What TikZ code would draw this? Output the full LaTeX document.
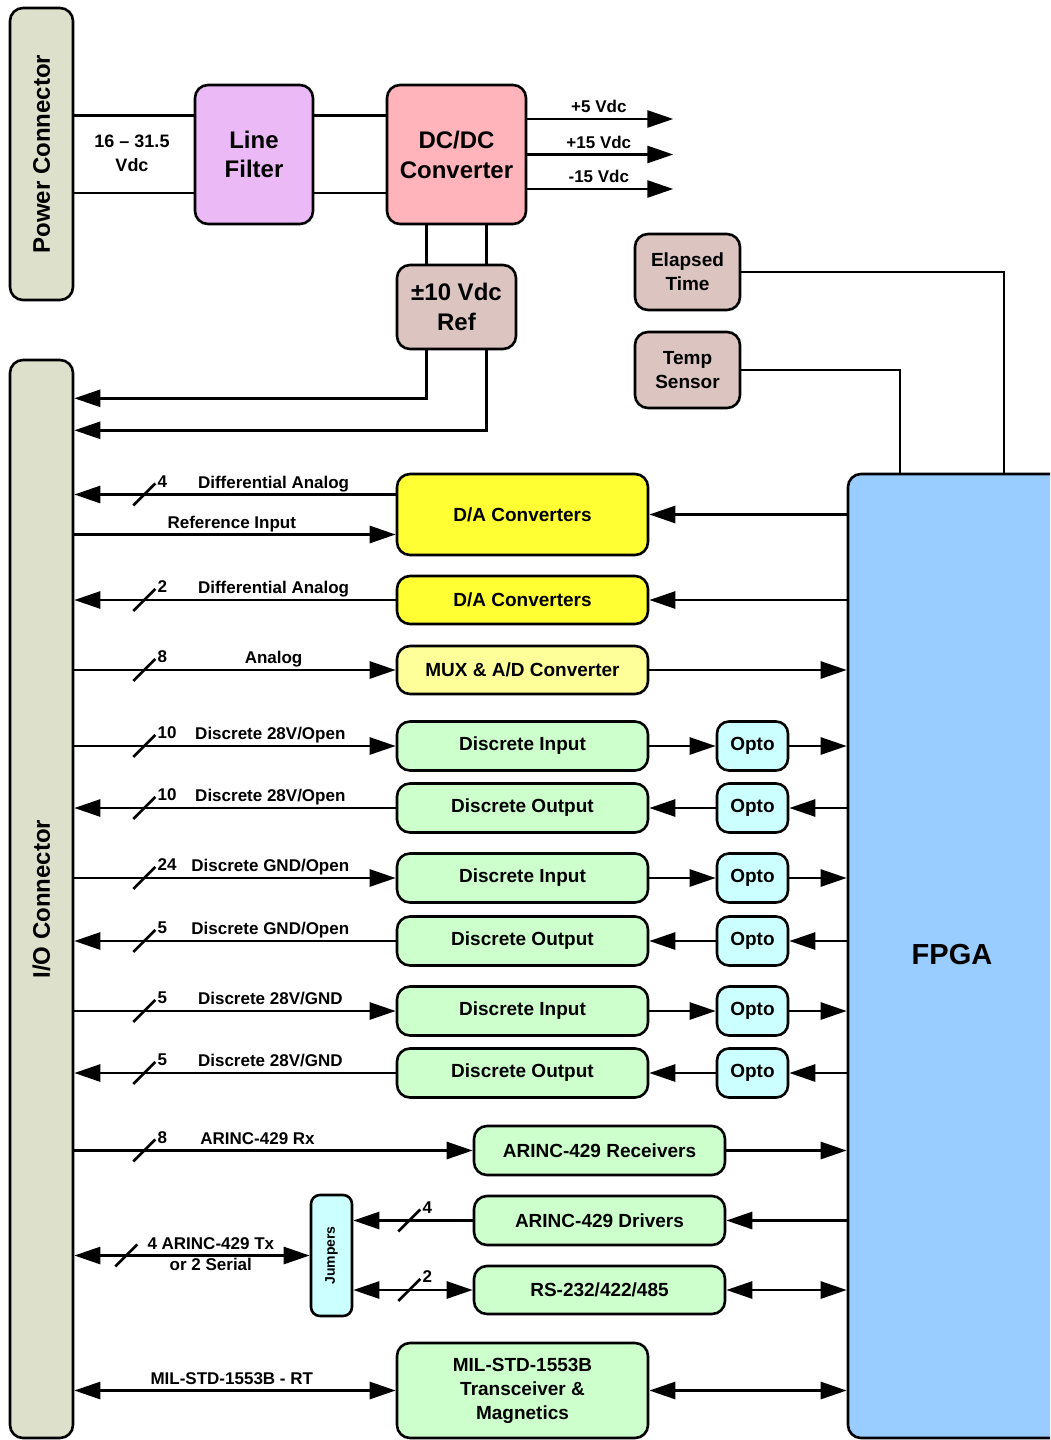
\documentclass[tikz,border=0pt]{standalone}
\usepackage{fontspec}
\setmainfont{Liberation Sans}
\usetikzlibrary{calc,arrows.meta,positioning}

\definecolor{conngray}{HTML}{DDE0CA}
\definecolor{filtpink}{HTML}{EAB9F6}
\definecolor{dcred}{HTML}{FFB3BA}
\definecolor{refbrown}{HTML}{DCC5C1}
\definecolor{fpgablue}{HTML}{99CCFF}
\definecolor{dayellow}{HTML}{FFFF33}
\definecolor{muxyellow}{HTML}{FFFF99}
\definecolor{iogreen}{HTML}{CCFFCC}
\definecolor{optocyan}{HTML}{CCFFFF}

\newcommand{\fs}[2]{\fontsize{#1}{#2}\selectfont\bfseries}
% slash mark with bus count
\newcommand{\busmark}[2]{%
  \path #1 coordinate (bm);
  \draw[sig] ($(bm)+(-11,11)$) -- ($(bm)+(11,-11)$) node[cnt] {#2};}

\begin{document}
\begin{tikzpicture}[x=1pt, y=-1pt,
  blk/.style={draw, line width=2.6pt, rounded corners=13pt, align=center, inner sep=0pt, font=\fs{19}{24}},
  sig/.style={line width=2.7pt},
  arr/.style={sig, -{Triangle[length=26pt,width=17pt]}},
  arrl/.style={sig, {Triangle[length=26pt,width=17pt]}-},
  dbl/.style={sig, {Triangle[length=26pt,width=17pt]}-{Triangle[length=26pt,width=17pt]}},
  lbl/.style={font=\fs{17}{19}, above, inner sep=1.5pt, text height=12pt, text depth=3.5pt},
  cnt/.style={font=\fs{17}{19}, anchor=west, inner sep=1pt, yshift=2pt}]
  \useasboundingbox (0,0) rectangle (1050,1440);
  \clip (0,0) rectangle (1050,1440);

  % connectors and power
  \node[blk, fill=conngray, minimum width=63, minimum height=292, font=\fs{24}{28}] (pwr) at (41.5,154) {\rotatebox{90}{Power Connector}};
  \node[blk, fill=conngray, minimum width=63, minimum height=1078, font=\fs{24}{28}] (io) at (41.5,899) {\rotatebox{90}{I/O Connector}};
  \node[blk, fill=filtpink, minimum width=118, minimum height=139, font=\fs{24}{29}] (filt) at (254,154.5) {Line\\Filter};
  \node[blk, fill=dcred, minimum width=139, minimum height=139, font=\fs{24}{30}] (dcdc) at (456.5,154.5) {DC/DC\\Converter};
  \node[blk, fill=refbrown, minimum width=119, minimum height=84, font=\fs{24}{30}] (ref) at (456.5,307) {±10 Vdc\\Ref};
  \node[blk, fill=refbrown, minimum width=105, minimum height=76] (elap) at (687.5,272) {Elapsed\\Time};
  \node[blk, fill=refbrown, minimum width=105, minimum height=76] (temp) at (687.5,370) {Temp\\Sensor};
  \node[blk, fill=fpgablue, minimum width=224, minimum height=964] (fpga) at (960,956) {};
  \node[font=\fs{29}{34}] (fpgatxt) at (952,955) {FPGA};
  \node[font=\fs{18}{24}, align=center] (vin) at (132,153) {16 – 31.5\\Vdc};

  \draw[sig] ($(pwr.east |- filt.west)+(0,-39)$) -- ([yshift=39pt]filt.west);
  \draw[sig] ($(pwr.east |- filt.west)+(0,38.5)$) -- ([yshift=-38.5pt]filt.west);
  \draw[sig] ([yshift=39pt]filt.east) -- ([yshift=39pt]dcdc.west);
  \draw[sig] ([yshift=-38.5pt]filt.east) -- ([yshift=-38.5pt]dcdc.west);
  \foreach \dy/\nm/\txt in {35.5/p5/+5 Vdc, 0/p15/+15 Vdc, -34.5/m15/-15 Vdc}
    \draw[arr] ([yshift=\dy pt]dcdc.east) -- node[lbl, pos=0.49] {\txt} ++(146,0) coordinate (\nm);

  \draw[sig] ([xshift=-30pt]dcdc.south) -- ([xshift=-30pt]ref.north);
  \draw[sig] ([xshift=30pt]dcdc.south) -- ([xshift=30pt]ref.north);
  \draw[arr] ([xshift=-30pt]ref.south) -- ++(0,48) coordinate (k1) -- (io.east |- k1);
  \draw[arr] ([xshift=30pt]ref.south) -- ++(0,80) coordinate (k2) -- (io.east |- k2);
  \draw[sig] (elap.east) -| ([xshift=44pt]fpga.north);
  \draw[sig] (temp.east) -| ([xshift=-60pt]fpga.north);

  % analog
  \node[blk, fill=dayellow, minimum width=251, minimum height=81] (da1) at (522.5,514.5) {D/A Converters};
  \node[blk, fill=dayellow, minimum width=251, minimum height=48] (da2) at (522.5,600) {D/A Converters};
  \node[blk, fill=muxyellow, minimum width=251, minimum height=48] (mux) at (522.5,670) {MUX \& A/D Converter};

  \draw[arrl] ($(io.east |- da1.west)+(0,-20)$) -- node[lbl, pos=0.62] {Differential Analog} ([yshift=20pt]da1.west);
  \busmark{($(io.east |- da1.west)+(70,-20)$)}{4}
  \draw[arr] ($(io.east |- da1.west)+(0,20)$) -- node[lbl, pos=0.49] {Reference Input} ([yshift=-20pt]da1.west);
  \draw[arr] (fpga.west |- da1) -- (da1.east);
  \draw[arrl] (io.east |- da2.west) -- node[lbl, pos=0.62] {Differential Analog} (da2.west);
  \busmark{($(io.east |- da2.west)+(70,0)$)}{2}
  \draw[arr] (fpga.west |- da2) -- (da2.east);
  \draw[arr] (io.east |- mux.west) -- node[lbl, pos=0.62] {Analog} (mux.west);
  \busmark{($(io.east |- mux.west)+(70,0)$)}{8}
  \draw[arr] (mux.east) -- (fpga.west |- mux);

  % discretes
  \foreach \y/\nm/\txt in {746/di1/Discrete Input, 808/do1/Discrete Output, 878/di2/Discrete Input,
      941/do2/Discrete Output, 1011/di3/Discrete Input, 1073/do3/Discrete Output} {
    \node[blk, fill=iogreen, minimum width=251, minimum height=49] (\nm) at (522.5,\y) {\txt};
    \node[blk, fill=optocyan, minimum width=71, minimum height=49, rounded corners=12pt] (o\nm) at (752.5,\y) {Opto};
  }
  \foreach \nm/\n/\txt in {di1/10/{Discrete 28V/Open}, di2/24/{Discrete GND/Open}, di3/5/{Discrete 28V/GND}} {
    \draw[arr] (io.east |- \nm.west) -- node[lbl, pos=0.61] {\txt} (\nm.west);
    \busmark{($(io.east |- \nm.west)+(70,0)$)}{\n}
    \draw[arr] (\nm) -- (o\nm);
    \draw[arr] (o\nm) -- (fpga.west |- o\nm);
  }
  \foreach \nm/\n/\txt in {do1/10/{Discrete 28V/Open}, do2/5/{Discrete GND/Open}, do3/5/{Discrete 28V/GND}} {
    \draw[arrl] (io.east |- \nm.west) -- node[lbl, pos=0.61] {\txt} (\nm.west);
    \busmark{($(io.east |- \nm.west)+(70,0)$)}{\n}
    \draw[arrl] (\nm) -- (o\nm);
    \draw[arrl] (o\nm) -- (fpga.west |- o\nm);
  }

  % serial buses
  \node[blk, fill=iogreen, minimum width=251, minimum height=49] (rx) at (599.5,1150.5) {ARINC-429 Receivers};
  \node[blk, fill=iogreen, minimum width=251, minimum height=49] (drv) at (599.5,1220.5) {ARINC-429 Drivers};
  \node[blk, fill=iogreen, minimum width=251, minimum height=48] (ser) at (599.5,1290) {RS-232/422/485};
  \node[blk, fill=optocyan, minimum width=41, minimum height=121, rounded corners=9pt, font=\fs{14}{16}] (jmp) at (331.5,1255.5) {\rotatebox{90}{Jumpers}};
  \node[blk, fill=iogreen, minimum width=251, minimum height=95] (mil) at (522.5,1390.5) {MIL-STD-1553B\\Transceiver \&\\Magnetics};

  \draw[arr] (io.east |- rx.west) -- node[lbl, pos=0.46] {ARINC-429 Rx} (rx.west);
  \busmark{($(io.east |- rx.west)+(70,0)$)}{8}
  \draw[arr] (rx.east) -- (fpga.west |- rx);
  \draw[arr] (fpga.west |- drv) -- (drv.east);
  \draw[arr] (drv.west) -- (jmp.east |- drv.west);
  \busmark{($(jmp.east |- drv.west)+(56,0)$)}{4}
  \draw[dbl] (fpga.west |- ser) -- (ser.east);
  \draw[dbl] (jmp.east |- ser.west) -- (ser.west);
  \busmark{($(jmp.east |- ser.west)+(56,0)$)}{2}
  \draw[dbl] (io.east |- jmp.west) -- node[lbl, pos=0.58] {4 ARINC-429 Tx} node[lbl, below, pos=0.58] {or 2 Serial} (jmp.west);
  \busmark{($(io.east |- jmp.west)+(52,0)$)}{}
  \draw[dbl] (io.east |- mil.west) -- node[lbl, pos=0.49] {MIL-STD-1553B - RT} (mil.west);
  \draw[dbl] (mil.east) -- (fpga.west |- mil);
\end{tikzpicture}
\end{document}
